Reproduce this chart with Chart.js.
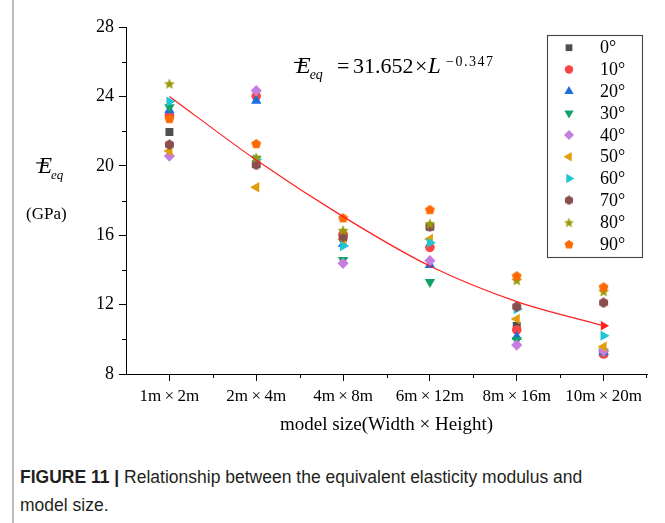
<!DOCTYPE html>
<html>
<head>
<meta charset="utf-8">
<script src="https://cdn.jsdelivr.net/npm/chart.js@4.4.0/dist/chart.umd.min.js"></script>
<style>
  body { margin: 0; background: #fff; width: 665px; height: 523px; overflow: hidden; position: relative; }
  #wrap { position: absolute; left: 0; top: 0; width: 665px; height: 455px; }
  #frame { position: absolute; left: 12px; top: 0; width: 2px; height: 523px; background: #bdbdbd; }
  #cap { position: absolute; left: 20px; top: 463px; width: 640px; color: #231f20;
         font-family: 'Liberation Sans', Arial, sans-serif; font-size: 17.5px; line-height: 28px; }
</style>
</head>
<body>
<div id="frame"></div>
<div id="wrap"><canvas id="c" width="665" height="455"></canvas></div>
<div id="cap"><b>FIGURE 11 |</b> Relationship between the equivalent elasticity modulus and<br>model size.</div>
<script>
const sizes = ['1m\u2009×\u20092m', '2m\u2009×\u20094m', '4m\u2009×\u20098m', '6m\u2009×\u200912m', '8m\u2009×\u200916m', '10m\u2009×\u200920m'];
const angles = ['0°', '10°', '20°', '30°', '40°', '50°', '60°', '70°', '80°', '90°'];
const yTicks = [8, 12, 16, 20, 24, 28];

// E_eq (GPa) per angle, one value per model size
const e0  = [21.95, 20.1, 15.85, 16.49, 10.77, 9.2];
const e10 = [22.9, 24.02, 16.05, 15.3, 10.54, 9.15];
const e20 = [23.2, 23.75, 15.5, 14.28, 10.15, 9.25];
const e30 = [23.37, 20.4, 14.57, 13.3, 9.96, 9.3];
const e40 = [20.56, 24.33, 14.38, 14.53, 9.67, 9.33];
const e50 = [20.85, 18.76, 15.76, 15.78, 11.17, 9.57];
const e60 = [23.7, 20.37, 15.38, 15.57, 11.75, 10.21];
const e70 = [21.22, 20.05, 15.91, 16.49, 11.88, 12.11];
const e80 = [24.75, 20.49, 16.3, 16.68, 13.42, 12.78];
const e90 = [22.74, 21.29, 17.01, 17.49, 13.67, 13.03];
// fitted curve
const fitCurve = [24.0, 20.33, 17.07, 14.22, 12.17, 10.78];

const serif = "'Liberation Serif', 'Times New Roman', serif";

// custom marker images for shapes Chart.js does not have
function shape(kind, color, s) {
  const c = document.createElement('canvas');
  c.width = s; c.height = s;
  const g = c.getContext('2d');
  const cx = s / 2, cy = s / 2, r = s / 2 - 0.3;
  g.fillStyle = color;
  g.beginPath();
  if (kind === 'hex') {
    for (let i = 0; i < 6; i++) {
      const a = Math.PI / 6 + i * Math.PI / 3;
      g.lineTo(cx + r * Math.cos(a), cy + r * Math.sin(a));
    }
  } else if (kind === 'pent') {
    for (let i = 0; i < 5; i++) {
      const a = -Math.PI / 2 + i * 2 * Math.PI / 5;
      g.lineTo(cx + r * Math.cos(a), cy + 0.6 + r * Math.sin(a));
    }
  } else if (kind === 'star') {
    for (let i = 0; i < 10; i++) {
      const a = -Math.PI / 2 + i * Math.PI / 5;
      const rr = i % 2 ? r * 0.45 : r;
      g.lineTo(cx + rr * Math.cos(a), cy + 0.8 + rr * Math.sin(a));
    }
  }
  g.closePath();
  g.fill();
  return c;
}

const colors = ['#4f4f4f', '#fb4444', '#1c6de0', '#12a266', '#c57ddf', '#e29d08', '#1dc6d2', '#8a4e4e', '#9a9a08', '#fd6a04'];
const styles = [
  { pointStyle: 'rect', radius: 5.6, rotation: 0 },
  { pointStyle: 'circle', radius: 4.8, rotation: 0 },
  { pointStyle: 'triangle', radius: 6, rotation: 0 },
  { pointStyle: 'triangle', radius: 6, rotation: 180 },
  { pointStyle: 'rectRot', radius: 5.6, rotation: 0 },
  { pointStyle: 'triangle', radius: 6, rotation: -90 },
  { pointStyle: 'triangle', radius: 6, rotation: 90 },
  { pointStyle: shape('hex', colors[7], 11), radius: 5.5, rotation: 0 },
  { pointStyle: shape('star', colors[8], 12), radius: 6, rotation: 0 },
  { pointStyle: shape('pent', colors[9], 11), radius: 5.5, rotation: 0 }
];
const legendStyles = [
  { pointStyle: 'rect', radius: 4.8, rotation: 0 },
  { pointStyle: 'circle', radius: 4.2, rotation: 0 },
  { pointStyle: 'triangle', radius: 5.4, rotation: 0 },
  { pointStyle: 'triangle', radius: 5.4, rotation: 180 },
  { pointStyle: 'rectRot', radius: 5, rotation: 0 },
  { pointStyle: 'triangle', radius: 5.4, rotation: -90 },
  { pointStyle: 'triangle', radius: 5.4, rotation: 90 },
  { pointStyle: shape('hex', colors[7], 10), radius: 5, rotation: 0 },
  { pointStyle: shape('star', colors[8], 11), radius: 5.5, rotation: 0 },
  { pointStyle: shape('pent', colors[9], 10), radius: 5, rotation: 0 }
];
const series = [e0, e10, e20, e30, e40, e50, e60, e70, e80, e90];

const datasets = series.map((d, i) => ({
  label: angles[i],
  data: d,
  showLine: false,
  backgroundColor: colors[i],
  borderColor: colors[i],
  borderWidth: 0,
  pointStyle: styles[i].pointStyle,
  pointRadius: styles[i].radius,
  pointHoverRadius: styles[i].radius,
  pointRotation: styles[i].rotation,
  pointBorderWidth: 0,
  order: 10 - i
}));
datasets.push({
  label: 'fit',
  data: fitCurve,
  borderColor: '#ff2020',
  backgroundColor: '#ff2020',
  borderWidth: 1.2,
  cubicInterpolationMode: 'monotone',
  pointRadius: [0, 0, 0, 0, 0, 5.5],
  pointStyle: 'triangle',
  pointRotation: 90,
  pointBorderWidth: 0,
  order: -1
});

function drawEeq(ctx, x, y, size) {
  ctx.font = 'italic ' + size + 'px ' + serif;
  ctx.textAlign = 'left';
  ctx.textBaseline = 'alphabetic';
  ctx.fillText('E', x, y);
  const w = ctx.measureText('E').width;
  ctx.beginPath();
  ctx.moveTo(x - size * 0.08, y - size * 0.44);
  ctx.lineTo(x + w * 0.72, y - size * 0.44);
  ctx.lineWidth = 1.1;
  ctx.stroke();
  ctx.font = 'italic ' + Math.round(size * 0.58) + 'px ' + serif;
  ctx.fillText('eq', x + w - 1, y + size * 0.26);
}

const extras = {
  id: 'extras',
  afterDraw(chart) {
    const ctx = chart.ctx;
    const xs = chart.scales.x, ys = chart.scales.y;
    ctx.save();
    ctx.strokeStyle = '#000';
    ctx.fillStyle = '#000';
    ctx.lineWidth = 1;
    // minor ticks
    for (let v = 10; v < 28; v += 4) {
      const py = Math.round(ys.getPixelForValue(v)) + 0.5;
      ctx.beginPath(); ctx.moveTo(xs.left - 4, py); ctx.lineTo(xs.left, py); ctx.stroke();
    }
    for (let i = 0; i < sizes.length; i++) {
      const px = Math.round((xs.getPixelForValue(i) + (i < sizes.length - 1 ? xs.getPixelForValue(i + 1) : xs.right * 2 - xs.getPixelForValue(i))) / 2) + 0.5;
      const p = Math.min(px, xs.right - 0.5);
      ctx.beginPath(); ctx.moveTo(p, ys.bottom); ctx.lineTo(p, ys.bottom + 4); ctx.stroke();
    }
    // axis titles
    drawEeq(ctx, 38, 173, 23);
    ctx.font = '17px ' + serif;
    ctx.fillText('(GPa)', 26, 219);
    ctx.textAlign = 'center';
    ctx.font = '19px ' + serif;
    ctx.fillText('model size(Width × Height)', (xs.left + xs.right) / 2, 430);
    // equation
    drawEeq(ctx, 296, 73, 24);
    ctx.textAlign = 'left';
    ctx.font = '22px ' + serif;
    ctx.fillText('=', 337, 73);
    ctx.fillText('31.652', 353, 73);
    ctx.fillText('×', 415, 73);
    ctx.font = 'italic 23px ' + serif;
    ctx.fillText('L', 428, 73);
    ctx.font = '14px ' + serif;
    ctx.letterSpacing = '1.5px';
    ctx.fillText('\u22120.347', 446, 66);
    ctx.letterSpacing = '0px';
    // legend
    ctx.fillStyle = '#fff';
    ctx.fillRect(547, 35, 95, 222);
    ctx.strokeStyle = '#444';
    ctx.strokeRect(547.5, 35.5, 95, 222);
    angles.forEach((a, i) => {
      const cy = 47.7 + i * 21.8;
      ctx.fillStyle = colors[i];
      Chart.helpers.drawPoint(ctx, {
        pointStyle: legendStyles[i].pointStyle,
        radius: legendStyles[i].radius,
        rotation: legendStyles[i].rotation,
        borderWidth: 0
      }, 569, cy);
      ctx.fillStyle = '#000';
      ctx.font = '18px ' + serif;
      ctx.textBaseline = 'middle';
      ctx.fillText(a, 600, cy + 1);
      ctx.textBaseline = 'alphabetic';
    });
    ctx.restore();
  }
};

new Chart(document.getElementById('c'), {
  type: 'line',
  data: { labels: sizes, datasets: datasets },
  options: {
    responsive: false,
    animation: false,
    layout: { padding: { left: 0, top: 27, right: 18, bottom: 0 } },
    plugins: { legend: { display: false }, tooltip: { enabled: false } },
    scales: {
      x: {
        type: 'category',
        offset: true,
        grid: { offset: false, drawOnChartArea: false, drawTicks: true, tickLength: 7, tickColor: '#000' },
        border: { display: true, color: '#000', width: 1 },
        ticks: { color: '#000', font: { family: serif, size: 17 }, padding: 5, maxRotation: 0, autoSkip: false },
        afterFit(s) { s.height = 81; }
      },
      y: {
        min: 8,
        max: 28,
        afterBuildTicks(s) { s.ticks = yTicks.map(v => ({ value: v })); },
        grid: { drawOnChartArea: false, drawTicks: true, tickLength: 7, tickColor: '#000' },
        border: { display: true, color: '#000', width: 1 },
        ticks: { color: '#000', font: { family: serif, size: 18 }, padding: 5 },
        afterFit(s) { s.width = 126; }
      }
    }
  },
  plugins: [extras]
});
</script>
</body>
</html>
